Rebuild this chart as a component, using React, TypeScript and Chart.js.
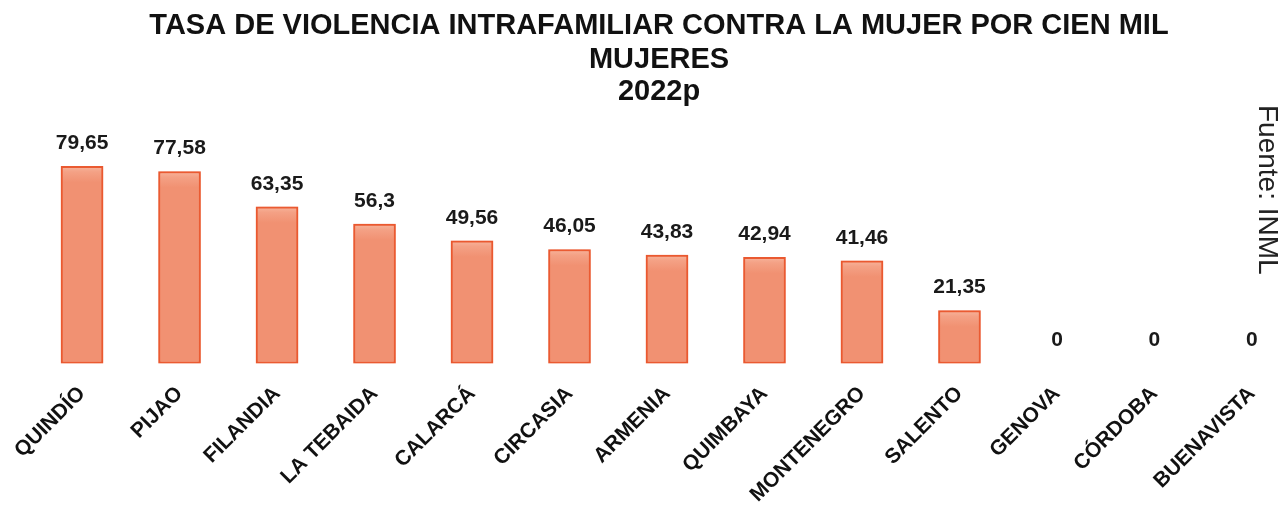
import React, { useEffect, useRef } from "react";
import { Chart, registerables } from "chart.js";

Chart.register(...registerables);

const categories = [
  "QUINDÍO", "PIJAO", "FILANDIA", "LA TEBAIDA", "CALARCÁ", "CIRCASIA", "ARMENIA",
  "QUIMBAYA", "MONTENEGRO", "SALENTO", "GENOVA", "CÓRDOBA", "BUENAVISTA",
];
const values = [79.65, 77.58, 63.35, 56.3, 49.56, 46.05, 43.83, 42.94, 41.46, 21.35, 0, 0, 0];
const valueLabels = ["79,65", "77,58", "63,35", "56,3", "49,56", "46,05", "43,83", "42,94", "41,46", "21,35", "0", "0", "0"];
const titleLines = ["TASA DE VIOLENCIA INTRAFAMILIAR CONTRA LA MUJER POR CIEN MIL", "MUJERES", "2022p"];
const sourceText = "Fuente: INML";

const BAR_FILL = "#F19172";
const BAR_BORDER = "#E9562D";

const decorPlugin = {
  id: "decor",
  beforeDatasetsDraw(chart: any) {
    const ctx = chart.ctx;
    ctx.save();
    ctx.shadowColor = "rgba(240,110,70,0.45)";
    ctx.shadowBlur = 7;
  },
  afterDatasetsDraw(chart: any) {
    const ctx = chart.ctx;
    ctx.restore();
    const meta = chart.getDatasetMeta(0);
    ctx.save();
    ctx.fillStyle = "#1a1a1a";
    ctx.font = "bold 21px 'Liberation Sans', Arial, sans-serif";
    ctx.textAlign = "center";
    ctx.textBaseline = "middle";
    meta.data.forEach((el: any, i: number) => {
      ctx.fillText(valueLabels[i], el.x, el.y - 23);
    });
    ctx.restore();
  },
  afterDraw(chart: any) {
    const ctx = chart.ctx;
    ctx.save();
    ctx.fillStyle = "#111";
    ctx.font = "bold 29px 'Liberation Sans', Arial, sans-serif";
    ctx.textAlign = "center";
    ctx.textBaseline = "alphabetic";
    const cx = 659;
    const baselines = [34, 68, 100];
    titleLines.forEach((t, i) => ctx.fillText(t, cx, baselines[i], 1020));
    ctx.restore();

    ctx.save();
    ctx.translate(1259, 105);
    ctx.rotate(Math.PI / 2);
    ctx.fillStyle = "#222";
    ctx.font = "28px 'Liberation Sans', Arial, sans-serif";
    ctx.textAlign = "left";
    ctx.textBaseline = "alphabetic";
    ctx.fillText(sourceText, 0, 0);
    ctx.restore();
  },
};

export default function App() {
  const ref = useRef<HTMLCanvasElement | null>(null);
  useEffect(() => {
    if (!ref.current) return;
    const chart = new Chart(ref.current, {
      type: "bar",
      data: {
        labels: categories,
        datasets: [
          {
            data: values,
            backgroundColor: (c: any) => {
              const ch = c.chart;
              if (c.type === "data" && c.raw === 0) return "rgba(0,0,0,0)";
              if (!ch.chartArea || c.type !== "data" || !ch.scales.y) return BAR_FILL;
              const y = ch.scales.y.getPixelForValue(c.raw);
              const g = ch.ctx.createLinearGradient(0, y, 0, y + 16);
              g.addColorStop(0, "#F7B49C");
              g.addColorStop(0.35, "#F4A185");
              g.addColorStop(1, BAR_FILL);
              return g;
            },
            borderColor: BAR_BORDER,
            borderWidth: (c: any) => (c.raw === 0 ? 0 : 2),
            borderSkipped: false,
            barThickness: 42,
          },
        ],
      },
      options: {
        responsive: false,
        animation: false,
        layout: { padding: { left: 33.3, right: 9.3, top: 116, bottom: 0 } },
        plugins: { legend: { display: false }, tooltip: { enabled: false }, title: { display: false } },
        scales: {
          x: {
            grid: { display: false },
            border: { display: false },
            ticks: {
              autoSkip: false,
              maxRotation: 45,
              minRotation: 45,
              padding: 10,
              color: "#111",
              font: { family: "'Liberation Sans', Arial, sans-serif", size: 21, weight: "bold" },
            },
            afterFit(scale: any) {
              scale.height = 144.5;
              scale.paddingLeft = 0;
              scale.paddingRight = 0;
            },
          },
          y: { display: false, min: 0, max: 100 },
        },
      },
      plugins: [decorPlugin],
    });
    return () => chart.destroy();
  }, []);
  return (
    <div style={{ position: "fixed", left: 0, top: 0, width: 1286, height: 508, overflow: "hidden", background: "#fff" }}>
      <canvas ref={ref} width={1310} height={508} style={{ display: "block", width: 1310, height: 508 }} />
    </div>
  );
}
